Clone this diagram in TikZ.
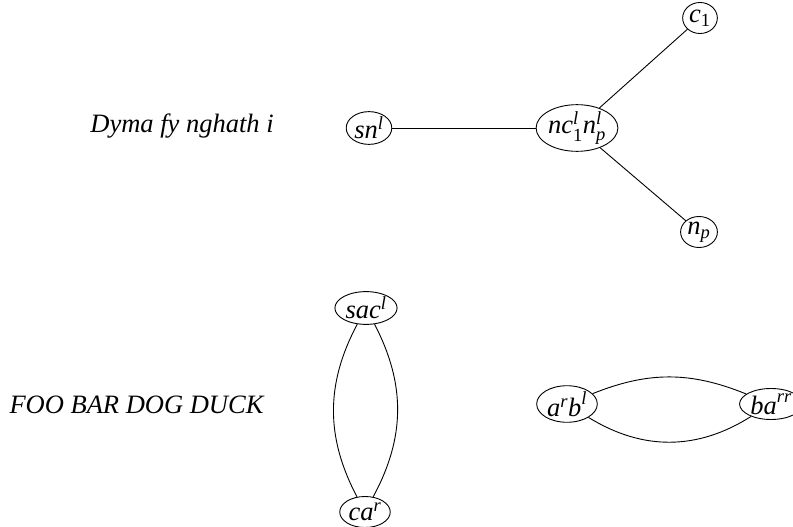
\documentclass[tikz,border=0pt]{standalone}
\usepackage{amsmath}
\usepackage{fontspec}
\setmainfont{Liberation Serif}
\usetikzlibrary{shapes.geometric}
\newcommand\ti[1]{\textit{#1}}
\begin{document}
\begin{tikzpicture}[x=1pt,y=-1pt,
  vert/.style={draw,line width=0.9pt,ellipse,inner xsep=1.5pt,inner ysep=0.5pt,minimum height=31pt,font=\fontsize{26.5}{30}\selectfont},
  lbl/.style={font=\fontsize{26.5}{30}\selectfont\itshape},
  edge/.style={draw,line width=0.9pt}]
\useasboundingbox (0,0) rectangle (793,527);
\node[lbl] (t1) at (182,126) {Dyma fy nghath i};
\node[lbl] (t2) at (136.5,405) {FOO BAR DOG DUCK};
\node[vert] (sn) at (369,128) {$\ti{sn}^{\ti{l}}$};
\node[vert,inner xsep=0pt,minimum height=44pt] (nc) at (577,128) {$\ti{nc}^{\ti{l}}_{\textup{1}}\ti{n}^{\ti{l}}_{\ti{p}}$};
\node[vert] (c1) at (700,18) {$\ti{c}_{\textup{1}}$};
\node[vert] (np) at (699,232) {$\ti{n}_{\ti{p}}$};
\node[vert] (sac) at (366,308) {$\ti{sac}^{\ti{l}}$};
\node[vert] (ca) at (365,512) {$\ti{ca}^{\ti{r}}$};
\node[vert] (ab) at (567,404) {$\ti{a}^{\ti{r}}\ti{b}^{\ti{l}}$};
\node[vert] (ba) at (771,404) {$\ti{ba}^{\ti{rr}}$};
\path[edge] (sn) -- (nc);
\path[edge] (nc) -- (c1);
\path[edge] (nc) -- (np);
\path[edge] (sac) to[bend right=28] (ca);
\path[edge] (sac) to[bend left=28] (ca);
\path[edge] (ab) to[bend left=22] (ba);
\path[edge] (ab) to[bend right=32] (ba);
\end{tikzpicture}
\end{document}
